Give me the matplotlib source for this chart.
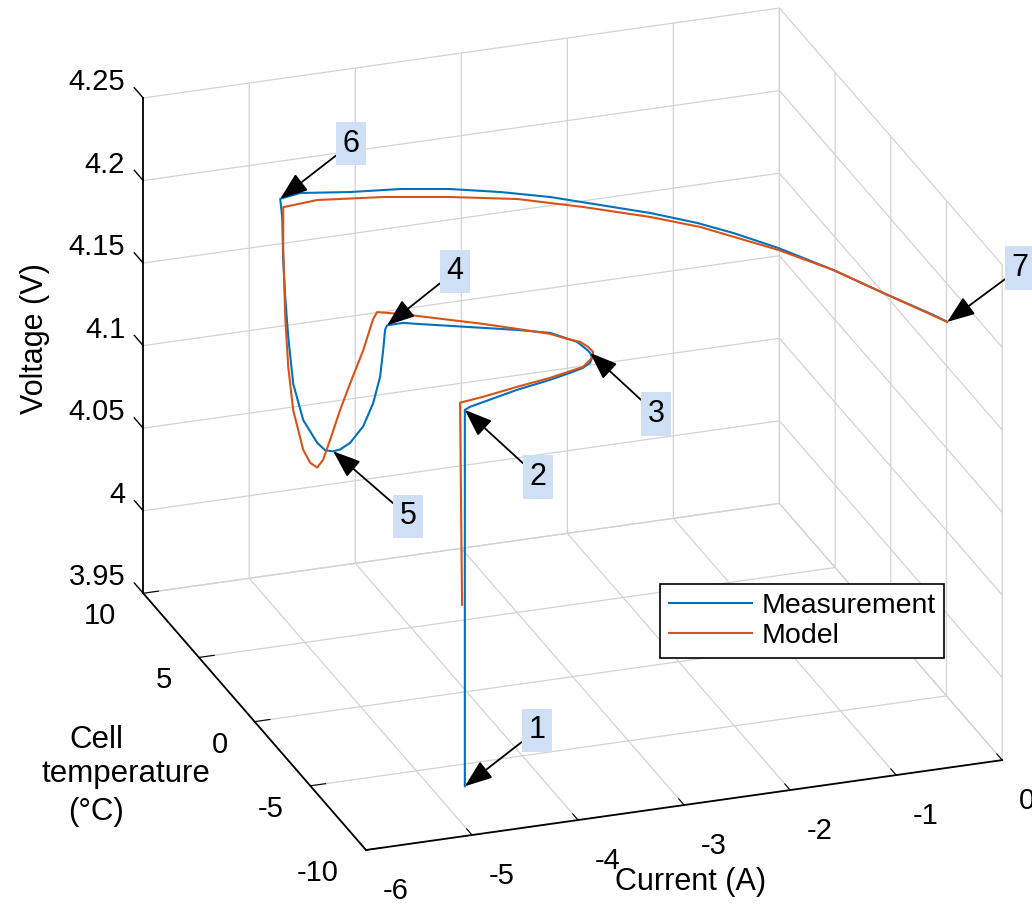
import matplotlib
matplotlib.use("Agg")
import matplotlib.pyplot as plt
from mpl_toolkits.mplot3d import proj3d

plt.rcParams['font.family'] = ['Liberation Sans', 'DejaVu Sans']
plt.rcParams['axes.unicode_minus'] = False

# =========================
# data: current (A), cell temperature (degC), voltage (V)
# =========================

meas_current = [-5.03, -5.03, -4.964, -4.445, -4.095, -3.876, -3.730, -3.635, -3.582, -3.562,
                -3.565, -3.591, -3.752, -4.008, -4.279, -4.541, -4.804, -4.914,
                -5.03, -5.03, -5.03, -5.03, -5.03, -5.03, -5.03, -5.03, -5.03, -5.03,
                -5.03, -5.03, -5.03, -5.03, -5.03, -5.03, -5.03, -5.03,
                -4.832, -4.405, -3.963, -3.543, -3.144, -2.761, -2.399, -2.037, -1.715,
                -1.486, -1.217, -0.915, -0.663, -0.403, -0.336]
meas_temp = [-9.64, -9.64, -9.478, -8.761, -8.391, -8.102, -7.883, -7.605, -7.278, -6.912,
             -6.675, -6.022, -5.134, -4.602, -4.130, -3.668, -3.205, -2.999,
             -2.664, -2.484, -2.305, -2.036, -1.408, -0.511, 0.655, 1.552, 2.179, 2.897,
             3.614, 4.870, 5.767, 6.215, 6.484, 6.664, 6.753, 6.933,
             7.022, 6.601, 6.318, 5.828, 5.130, 4.293, 3.248, 2.203, 1.049,
             0.003, -1.478, -3.543, -5.627, -7.642, -8.265]
meas_voltage = [3.977, 4.205, 4.205, 4.205, 4.205, 4.205, 4.205, 4.205, 4.205, 4.205,
                4.205, 4.205, 4.205, 4.205, 4.205, 4.205, 4.205, 4.205,
                4.202, 4.198, 4.184, 4.166, 4.145, 4.124, 4.105, 4.094, 4.088, 4.083,
                4.082, 4.086, 4.101, 4.126, 4.148, 4.169, 4.194, 4.204,
                4.205, 4.205, 4.205, 4.205, 4.205, 4.205, 4.205, 4.205, 4.205,
                4.205, 4.205, 4.205, 4.205, 4.205, 4.205]

model_current = [-5.03, -5.03, -4.782, -4.423, -4.080, -3.723, -3.582, -3.530, -3.535, -3.566,
                 -3.653, -3.760, -4.000, -4.250, -4.498, -4.746, -4.874,
                 -5.03, -5.03, -5.03, -5.03, -5.03, -5.03, -5.03, -5.03, -5.03, -5.03,
                 -5.03, -5.03, -5.03, -5.03, -5.03,
                 -4.740, -4.164, -3.601, -3.053, -2.556, -2.066, -1.719, -1.231, -0.915,
                 -0.663, -0.336]
model_temp = [-9.39, -9.21, -8.912, -8.553, -8.253, -7.814, -7.278, -6.872, -6.477, -6.052,
              -5.716, -5.203, -4.533, -3.853, -3.252, -2.651, -2.345,
              -1.767, -1.408, -0.511, 0.655, 1.552, 2.448, 3.076, 3.614, 4.242, 4.870,
              5.767, 6.215, 6.484, 6.664, 6.664,
              6.370, 5.931, 5.274, 4.478, 3.276, 1.926, 0.742, -1.617, -3.543,
              -5.627, -8.265]
model_voltage = [4.085, 4.206, 4.205, 4.205, 4.205, 4.205, 4.205, 4.205, 4.205, 4.205,
                 4.205, 4.205, 4.205, 4.205, 4.205, 4.205, 4.205,
                 4.203, 4.196, 4.170, 4.141, 4.118, 4.093, 4.076, 4.067, 4.065, 4.068,
                 4.085, 4.108, 4.136, 4.175, 4.201,
                 4.205, 4.205, 4.205, 4.205, 4.205, 4.205, 4.205, 4.205, 4.205,
                 4.205, 4.205]

current_ticks = [-6, -5, -4, -3, -2, -1, 0]
temp_ticks = [-10, -5, 0, 5, 10]
volt_ticks = [3.95, 4.0, 4.05, 4.1, 4.15, 4.2, 4.25]
volt_labels = ['3.95', '4', '4.05', '4.1', '4.15', '4.2', '4.25']

# numbered points on the measured curve
point_idx = [0, 1, 9, 18, 26, 35, 50]
point_names = ['1', '2', '3', '4', '5', '6', '7']
# label box offset from its point, pixels
point_offsets = [(72, 56), (73, -67), (66, -61), (68, 54), (75, -65), (71, 55), (73, 54)]

# =========================
# figure
# =========================

W, H = 1032, 909
fig = plt.figure(figsize=(W / 100, H / 100), dpi=100)
ax = fig.add_axes([-0.05, -0.05, 1.1, 1.1], projection='3d')
ax.set_proj_type('ortho')
ax.view_init(elev=23.8, azim=-109.3)
box_aspect = (1, 1, 0.803)
ax.set_box_aspect(box_aspect)

grid_col = '#d3d3d3'
for axis in (ax.xaxis, ax.yaxis, ax.zaxis):
    axis.set_pane_color((1, 1, 1, 0))
    axis.pane.set_edgecolor(grid_col)
    axis._axinfo['grid'].update(color=grid_col, linewidth=0.9)
    axis._axinfo['tick'].update(inward_factor=0.0, outward_factor=0.3)
    axis.line.set_color('black')
    axis.line.set_linewidth(1.3)
# z ticks are drawn by hand below, pointing back along temperature
ax.zaxis._axinfo['tick'].update(outward_factor=0.0)

ax.plot(meas_current, meas_temp, meas_voltage, color='#0072BD', lw=1.5, label='Measurement')
ax.plot(model_current, model_temp, model_voltage, color='#D95319', lw=1.5, label='Model')

for v in volt_ticks:
    ax.plot([-6, -6], [10, 10.8], [v, v], color='black', lw=1.0)

ax.set_xlim(-6, 0)
ax.set_ylim(-10, 10)
ax.set_zlim(3.95, 4.25)
ax.set_xticks(current_ticks)
ax.set_yticks(temp_ticks)
ax.set_zticks(volt_ticks)
ax.set_xticklabels([])
ax.set_yticklabels([])
ax.set_zticklabels([])


def to_pixels(x, y, z):
    xs, ys, _ = proj3d.proj_transform(x, y, z, ax.get_proj())
    return ax.transData.transform((xs, ys))


# scale and shift the box so it fills the frame
fig.canvas.draw()
x_left = to_pixels(-6, 10, 3.95)[0]
x_right = to_pixels(0, -10, 3.95)[0]
ax.set_box_aspect(box_aspect, zoom=(1002 - 143) / (x_right - x_left))
fig.canvas.draw()
ox, oy = to_pixels(-6, -10, 3.95)
pos = ax.get_position()
ax.set_position([pos.x0 + (366 - ox) / W, pos.y0 + (59 - oy) / H, pos.width, pos.height])
fig.canvas.draw()


def label_at(text, x, y, z, off, ha, size=21, **kw):
    xs, ys, _ = proj3d.proj_transform(x, y, z, ax.get_proj())
    return ax.annotate(text, xy=(xs, ys), xycoords='data', xytext=off,
                       textcoords='offset pixels', ha=ha, va='center', fontsize=size,
                       annotation_clip=False, **kw)


# =========================
# tick labels
# =========================

for c in current_ticks:
    label_at(f'{c:g}', c, -10, 3.95, (17, -41), 'left')
for t in temp_ticks:
    label_at(f'{t:g}', -6, t, 3.95, (-27, -23), 'right')
for v, s in zip(volt_ticks, volt_labels):
    label_at(s, -6, 10, v, (-18, 16), 'right')

# =========================
# numbered callouts
# =========================

for idx, name, off in zip(point_idx, point_names, point_offsets):
    label_at(name, meas_current[idx], meas_temp[idx], meas_voltage[idx], off, 'center',
             size=22,
             bbox=dict(boxstyle='square,pad=0.22', fc='#cfe0f6', ec='none'),
             arrowprops=dict(arrowstyle='-|>,head_length=0.85,head_width=0.32',
                             mutation_scale=20, color='black', lw=1.3,
                             shrinkA=0, shrinkB=0))

leg = ax.legend(loc='upper left', bbox_to_anchor=(0.640, 0.357), bbox_transform=fig.transFigure,
                fontsize=20.5, fancybox=False, framealpha=1, edgecolor='black',
                handlelength=2.9, handletextpad=0.35, borderpad=0.3, labelspacing=0.15,
                borderaxespad=0)
leg.get_frame().set_linewidth(1.2)

# axis titles
fig.text(0.034, 0.628, 'Voltage (V)', rotation=90, ha='center', va='center', fontsize=22)
fig.text(0.669, 0.030, 'Current (A)', ha='center', va='center', fontsize=22)
fig.text(0.093, 0.186, 'Cell', ha='center', va='center', fontsize=22.5)
fig.text(0.122, 0.148, 'temperature', ha='center', va='center', fontsize=22.5)
fig.text(0.093, 0.107, '(°C)', ha='center', va='center', fontsize=22.5)

fig.savefig('out.png', dpi=100)
